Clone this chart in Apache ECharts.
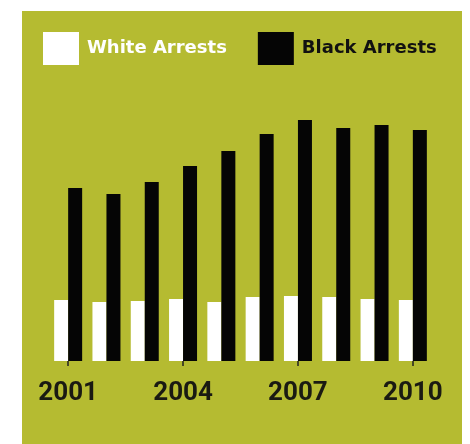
<!DOCTYPE html>
<html><head><meta charset="utf-8">
<script src="https://cdn.jsdelivr.net/npm/echarts@6/dist/echarts.min.js"></script>
<style>html,body{margin:0;padding:0;background:#fff}#c{width:470px;height:444px}</style>
</head><body><div id="c"></div>
<script>
const years = ['2001','2002','2003','2004','2005','2006','2007','2008','2009','2010'];
const whiteArrests = [61,59,60,62,59,64,65,64,62,61];
const blackArrests = [173,167,179,195,210,227,241,233,236,231];
const seriesNames = ['White Arrests','Black Arrests'];

const chart = echarts.init(document.getElementById('c'));
chart.setOption({
  animation:false,
  backgroundColor:'#ffffff',
  graphic:[{type:'rect',z:-10,shape:{x:22,y:11,width:440,height:433},style:{fill:'#b5bb31'}}],
  legend:{
    left:38, top:27, itemWidth:36, itemHeight:33, itemGap:31,
    icon:'rect',
    textStyle:{fontFamily:'"DejaVu Sans"', fontWeight:'bold', fontSize:18, padding:[0,0,0,3]},
    data:[
      {name:seriesNames[0], textStyle:{color:'#ffffff'}},
      {name:seriesNames[1], textStyle:{color:'#111111'}}
    ]
  },
  grid:{left:49, right:38, top:111, bottom:83},
  xAxis:{
    type:'category', data:years, offset:6,
    axisLine:{show:false},
    axisTick:{show:true, alignWithLabel:true, interval:2, length:5, lineStyle:{color:'#222',width:1.5}},
    axisLabel:{interval:2, color:'#1a1a12', fontFamily:'Roboto', fontWeight:'bold', fontSize:26, margin:13}
  },
  yAxis:{type:'value', min:0, max:250, show:false, splitLine:{show:false}},
  series:[
    {name:seriesNames[0], type:'bar', data:whiteArrests, barWidth:14, barGap:'0%', itemStyle:{color:'#ffffff'}},
    {name:seriesNames[1], type:'bar', data:blackArrests, barWidth:14, barGap:'0%', itemStyle:{color:'#050505'}}
  ]
});
</script></body></html>
